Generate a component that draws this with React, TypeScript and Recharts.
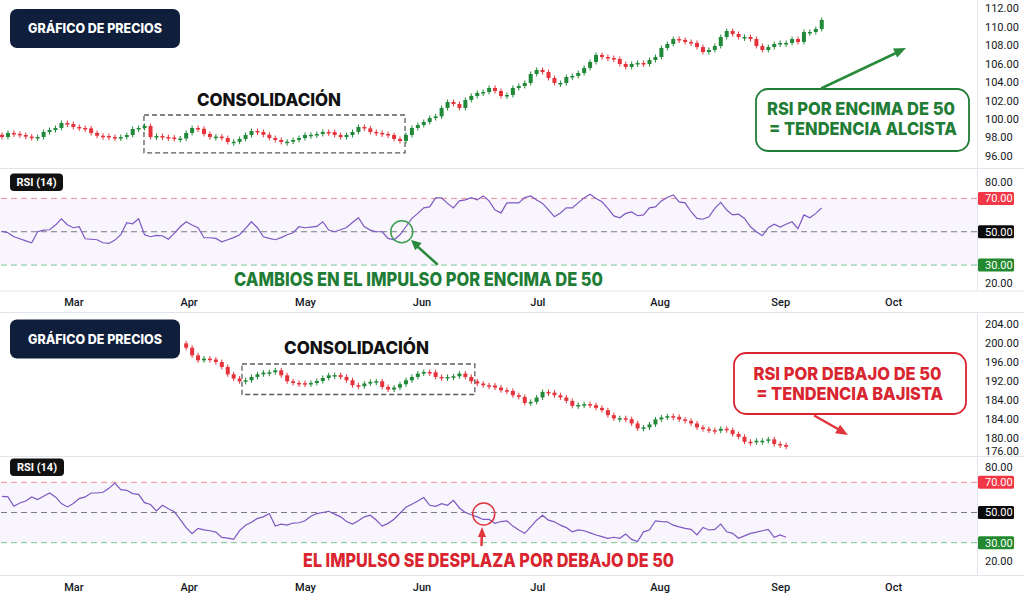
import React from "react";
import {
  ComposedChart,
  LineChart,
  Line,
  Bar,
  XAxis,
  YAxis,
  ReferenceLine,
  ReferenceArea,
  ReferenceDot,
} from "recharts";

// ---------------- DATA ----------------
const monthLabels = ["Mar", "Apr", "May", "Jun", "Jul", "Aug", "Sep", "Oct"];
const monthTicks = [12.1, 31.5, 51.1, 70.7, 90.2, 110.8, 131.1, 150.1];

const priceTicks1 = [96, 98, 100, 102, 104, 106, 108, 110, 112];
const priceLabels1 = ["96.00", "98.00", "100.00", "102.00", "104.00", "106.00", "108.00", "110.00", "112.00"];
const priceTicks2 = [176, 180, 184, 188, 192, 196, 200, 204];
const priceLabels2 = ["176.00", "180.00", "184.00", "184.00", "192.00", "196.00", "200.00", "204.00"];
const rsiTicks = [20, 30, 50, 70, 80];
const rsiLabels = ["20.00", "30.00", "50.00", "70.00", "80.00"];

// upper chart: daily closes (open = previous close)
const firstOpen1 = 98.3;
const closes1 = [
  98.06, 98.5, 98.4, 98.28, 98.1, 97.95, 98.06, 98.61, 98.82, 99.04,
  99.58, 99.47, 99.15, 99.04, 99.0, 98.5, 98.2, 98.17, 98.06, 97.95,
  98.06, 98.28, 98.93, 99.04, 99.26, 98.06, 98.17, 98.06, 98.0, 97.85,
  97.9, 98.5, 99.04, 98.95, 98.39, 98.06, 98.1, 97.95, 97.52, 97.55,
  97.85, 98.28, 98.71, 98.6, 98.3, 97.95, 97.74, 97.52, 97.55, 97.74,
  97.95, 98.28, 98.3, 98.39, 98.61, 98.6, 98.28, 98.06, 98.28, 98.61,
  99.15, 99.0, 98.61, 98.5, 98.39, 98.28, 97.85, 97.63, 98.28, 99.04,
  99.36, 99.69, 100.12, 100.3, 101.21, 101.86, 101.64, 101.21, 102.08, 102.51,
  102.84, 102.94, 103.38, 103.05, 102.51, 102.62, 103.38, 103.59, 103.92, 104.9,
  105.33, 105.11, 104.46, 103.92, 103.92, 104.57, 104.68, 105.0, 105.55, 106.2,
  106.96, 106.74, 106.63, 106.52, 105.98, 105.66, 105.98, 106.09, 105.98, 106.41,
  106.74, 107.72, 108.15, 108.69, 108.6, 108.37, 108.26, 107.82, 107.28, 107.5,
  107.93, 108.91, 109.56, 109.23, 108.91, 108.91, 108.69, 107.93, 107.5, 107.82,
  108.15, 108.26, 108.26, 108.69, 108.37, 109.45, 109.45, 109.78, 110.75,
];

// lower chart: daily closes starting at bar 31 (open = previous close)
const firstIndex2 = 31;
const firstOpen2 = 200.0;
const closes2 = [
  199.09, 197.47, 196.42, 196.78, 196.6, 196.06, 195.01, 193.47, 192.57, 192.0,
  192.21, 192.91, 193.47, 193.83, 193.9, 194.32, 193.26, 192.0, 191.64, 191.6,
  191.52, 191.64, 192.06, 192.69, 193.26, 193.3, 192.91, 192.21, 191.16, 190.95,
  191.52, 191.87, 192.0, 190.8, 190.25, 190.67, 191.37, 192.21, 192.91, 193.62,
  193.96, 193.9, 192.91, 192.85, 192.9, 193.05, 193.62, 192.91, 192.0, 191.52,
  191.16, 191.1, 190.67, 190.11, 189.96, 189.05, 188.69, 187.43, 187.64, 188.57,
  189.75, 189.6, 189.05, 188.57, 187.85, 186.8, 187.0, 187.16, 186.95, 186.38,
  185.89, 184.84, 184.15, 184.2, 184.0, 183.09, 182.04, 182.25, 182.88, 183.94,
  184.36, 184.63, 184.48, 183.94, 183.64, 183.09, 182.25, 181.89, 181.68, 181.54,
  181.96, 181.68, 180.84, 180.27, 179.22, 179.16, 179.43, 179.43, 179.73, 178.74,
  178.53, 178.17,
];

const rsi1 = [
  50.2, 49.4, 47.0, 45.8, 44.5, 43.4, 50.0, 51.0, 51.2, 54.0,
  57.8, 54.2, 52.4, 53.0, 45.8, 45.5, 45.2, 43.4, 43.0, 45.0,
  48.2, 55.4, 54.8, 57.8, 48.2, 47.0, 47.8, 47.6, 45.5, 49.0,
  53.0, 56.0, 54.0, 52.4, 46.4, 46.4, 46.0, 44.0, 45.2, 46.5,
  48.2, 52.0, 56.0, 52.4, 47.0, 46.0, 45.2, 46.5, 48.2, 49.4,
  53.0, 52.4, 52.8, 53.2, 56.0, 51.0, 50.0, 51.2, 52.5, 55.5,
  58.4, 53.0, 51.0, 50.0, 50.0, 46.0, 45.2, 48.2, 53.0, 58.0,
  61.0, 64.3, 64.9, 70.3, 70.3, 67.0, 64.3, 68.5, 69.1, 70.5,
  69.1, 71.5, 68.5, 63.0, 61.3, 67.3, 67.3, 67.3, 70.5, 71.5,
  69.0, 67.0, 63.1, 59.0, 61.3, 64.3, 64.3, 67.3, 70.3, 72.5,
  70.0, 68.0, 64.0, 59.5, 58.4, 61.0, 61.9, 59.6, 60.1, 64.3,
  64.9, 68.5, 70.5, 72.1, 67.9, 67.3, 62.0, 58.0, 57.5, 59.0,
  64.0, 67.6, 63.0, 60.1, 60.5, 58.0, 53.0, 50.0, 47.6, 52.4,
  54.5, 52.8, 54.5, 56.0, 51.8, 60.1, 58.4, 61.0, 64.3,
];

const rsi2 = [
  60.7, 60.3, 54.1, 56.3, 57.6, 60.3, 58.6, 60.7, 62.9, 60.3,
  55.9, 53.7, 55.9, 59.2, 60.3, 62.9, 62.9, 63.4, 66.0, 69.5,
  65.1, 64.7, 62.5, 62.0, 56.5, 55.3, 51.0, 54.8, 52.5, 50.5,
  45.5, 40.0, 36.0, 39.5, 38.5, 37.9, 37.0, 33.5, 33.0, 32.2,
  38.0, 41.5, 43.5, 46.1, 47.1, 49.3, 41.0, 42.3, 41.6, 43.0,
  43.2, 44.5, 47.5, 49.3, 50.0, 50.8, 48.9, 47.1, 44.0, 42.3,
  44.5, 47.1, 48.2, 45.0, 41.0, 42.8, 45.5, 49.5, 53.5, 55.5,
  57.6, 59.9, 54.8, 54.1, 55.9, 54.8, 58.1, 53.0, 50.0, 48.5,
  47.1, 45.4, 45.4, 42.8, 44.0, 44.5, 41.0, 38.4, 36.2, 40.5,
  44.9, 48.2, 44.9, 43.8, 41.6, 40.0, 37.2, 38.5, 37.9, 36.5,
  35.1, 34.0, 32.9, 33.6, 32.9, 35.7, 32.2, 30.7, 37.2, 38.4,
  44.5, 44.0, 43.8, 41.6, 40.5, 39.5, 38.8, 35.1, 40.1, 38.4,
  38.8, 42.3, 37.2, 36.2, 32.9, 34.5, 36.2, 37.0, 37.9, 38.8,
  33.6, 35.1, 33.6,
];

// ---------------- STYLE / LAYOUT ----------------
const X_DOMAIN: [number, number] = [-0.337, 164.14];
const GREEN = "#22893a";
const RED = "#e5333b";
const PURPLE = "#7e57c2";
const NAVY = "#0e1e3b";
const TEXT_GREEN = "#1f7d36";
const TEXT_RED = "#d9252f";
const GRID = "#e3e5ec";
const AXIS_FONT = "Roboto, 'Noto Sans', Arial, sans-serif";
const ANN_FONT = "Inter, 'Open Sans', 'Noto Sans', sans-serif";

type Candle = { i: number; o: number; c: number };
const buildCandles = (closes: number[], firstOpen: number, start: number): Candle[] =>
  closes.map((c, k) => ({ i: start + k, o: k === 0 ? firstOpen : closes[k - 1], c }));

const candles1 = buildCandles(closes1, firstOpen1, 0);
const candles2 = buildCandles(closes2, firstOpen2, firstIndex2);
const rsiData1 = rsi1.map((v, i) => ({ i, v }));
const rsiData2 = rsi2.map((v, i) => ({ i, v }));

const bodyRange = (d: Candle) => [Math.min(d.o, d.c), Math.max(d.o, d.c)];

const CandleShape = (props: any) => {
  const { x, y, width, height, payload } = props;
  if (x == null || y == null || !payload) return null;
  const color = payload.c >= payload.o ? GREEN : RED;
  const h = Math.abs(height || 0);
  const top = (height || 0) < 0 ? y + height : y;
  const bh = Math.max(h, 1.5);
  const cx = x + width / 2;
  return (
    <g>
      <line x1={cx} x2={cx} y1={top - 2.5} y2={top + bh + 2.5} stroke={color} strokeWidth={1} />
      <rect x={x} y={top} width={width} height={bh} fill={color} />
    </g>
  );
};

const makePriceTick = (ticks: number[], labels: string[], edge: number) => (props: any) => {
  const { x, y, payload } = props;
  const idx = ticks.indexOf(payload.value);
  const dy = payload.value === edge ? -6 : 0;
  return (
    <text x={x} y={y + dy} dy="0.35em" textAnchor="start" fontSize={11} fontFamily={AXIS_FONT} fill="#131722">
      {idx >= 0 ? labels[idx] : ""}
    </text>
  );
};

const badgeColor: Record<number, string> = { 70: "#f23645", 50: "#0b0b0b", 30: "#22892f" };

const makeRsiTick = (lowShift: number) => (props: any) => {
  const { x, y, payload } = props;
  const v = payload.value as number;
  const idx = rsiTicks.indexOf(v);
  const bg = badgeColor[v];
  const dy = v === 20 ? lowShift : 0;
  return (
    <g>
      {bg && <rect x={x - 7} y={y - 6.5} width={36} height={13} rx={1.5} fill={bg} />}
      <text x={x} y={y + dy} dy="0.35em" textAnchor="start" fontSize={11} fontFamily={AXIS_FONT} fill={bg ? "#ffffff" : "#131722"}>
        {idx >= 0 ? rsiLabels[idx] : ""}
      </text>
    </g>
  );
};

const PriceChart = (p: {
  data: Candle[];
  height: number;
  domain: [number, number];
  ticks: number[];
  labels: string[];
  box: { x1: number; x2: number; y1: number; y2: number };
}) => (
  <ComposedChart width={1024} height={p.height} data={p.data} margin={{ top: 0, right: 0, bottom: 0, left: 0 }}>
    <XAxis type="number" dataKey="i" domain={X_DOMAIN} allowDataOverflow hide />
    <YAxis
      orientation="right"
      width={47}
      domain={p.domain}
      allowDataOverflow
      ticks={p.ticks}
      interval={0}
      axisLine={false}
      tickLine={false}
      tickSize={0}
      tickMargin={8}
      tick={makePriceTick(p.ticks, p.labels, p.domain[0])}
    />
    <ReferenceArea
      x1={p.box.x1}
      x2={p.box.x2}
      y1={p.box.y1}
      y2={p.box.y2}
      fill="#ffffff"
      fillOpacity={0}
      stroke="#5c5c5c"
      strokeWidth={1.3}
      strokeDasharray="5 3"
    />
    <Bar dataKey={bodyRange as any} barSize={4} shape={CandleShape} isAnimationActive={false} />
  </ComposedChart>
);

const RsiChart = (p: {
  data: { i: number; v: number }[];
  height: number;
  domain: [number, number];
  lowShift: number;
  circle: { x: number; y: number; color: string };
}) => (
  <LineChart width={1024} height={p.height} data={p.data} margin={{ top: 0, right: 0, bottom: 0, left: 0 }}>
    <XAxis
      type="number"
      dataKey="i"
      domain={X_DOMAIN}
      allowDataOverflow
      ticks={monthTicks}
      interval={0}
      height={22}
      axisLine={false}
      tickLine={false}
      tickSize={0}
      tickMargin={8}
      tickFormatter={(_v: number, idx: number) => monthLabels[idx]}
      tick={{ fontSize: 11, fill: "#131722", fontFamily: AXIS_FONT, fontWeight: 500 }}
    />
    <YAxis
      orientation="right"
      width={47}
      domain={p.domain}
      allowDataOverflow
      ticks={rsiTicks}
      interval={0}
      axisLine={false}
      tickLine={false}
      tickSize={0}
      tickMargin={8}
      tick={makeRsiTick(p.lowShift)}
    />
    <ReferenceArea y1={30} y2={70} fill={PURPLE} fillOpacity={0.055} stroke="none" />
    <ReferenceLine y={70} stroke="#ee8f95" strokeDasharray="6 4" strokeWidth={1} />
    <ReferenceLine y={50} stroke="#7a7b86" strokeDasharray="6 4" strokeWidth={1} />
    <ReferenceLine y={30} stroke="#7cc191" strokeDasharray="6 4" strokeWidth={1} />
    <Line type="linear" dataKey="v" stroke={PURPLE} strokeWidth={1.2} dot={false} isAnimationActive={false} />
    <ReferenceDot x={p.circle.x} y={p.circle.y} r={11} fill="none" stroke={p.circle.color} strokeWidth={1.5} />
  </LineChart>
);

const Arrow = (p: { pts: string; line: [number, number, number, number]; color: string; w: number }) => (
  <g>
    <line x1={p.line[0]} y1={p.line[1]} x2={p.line[2]} y2={p.line[3]} stroke={p.color} strokeWidth={p.w} strokeLinecap="round" />
    <polygon points={p.pts} fill={p.color} />
  </g>
);

const AnnText = (p: { x: number; y: number; size: number; len: number; color: string; children: string }) => (
  <text
    x={p.x}
    y={p.y}
    textAnchor="middle"
    fontSize={p.size}
    fontWeight={800}
    fontFamily={ANN_FONT}
    fill={p.color}
    textLength={p.len}
    lengthAdjust="spacingAndGlyphs"
  >
    {p.children}
  </text>
);

export default function App() {
  return (
    <div style={{ position: "absolute", left: 0, top: 0, width: 1024, height: 597, background: "#ffffff", overflow: "hidden" }}>
      <div style={{ position: "absolute", left: 0, top: 0 }}>
        <PriceChart
          data={candles1}
          height={168}
          domain={[94.7, 112.92]}
          ticks={priceTicks1}
          labels={priceLabels1}
          box={{ x1: 23.9, x2: 67.85, y1: 96.33, y2: 100.45 }}
        />
      </div>
      <div style={{ position: "absolute", left: 0, top: 169 }}>
        <RsiChart data={rsiData1} height={143} domain={[15.05, 87.64]} lowShift={1} circle={{ x: 67.3, y: 50, color: "#3c9d4e" }} />
      </div>
      <div style={{ position: "absolute", left: 0, top: 313 }}>
        <PriceChart
          data={candles2}
          height={144}
          domain={[176, 206.42]}
          ticks={priceTicks2}
          labels={priceLabels2}
          box={{ x1: 40.4, x2: 79.6, y1: 189.2, y2: 195.65 }}
        />
      </div>
      <div style={{ position: "absolute", left: 0, top: 457 }}>
        <RsiChart data={rsiData2} height={140} domain={[8.6, 86.75]} lowShift={3} circle={{ x: 81.1, y: 49, color: "#e0353d" }} />
      </div>

      <svg width={1024} height={597} style={{ position: "absolute", left: 0, top: 0, pointerEvents: "none" }}>
        {/* panel separators */}
        <line x1={0} x2={1024} y1={168.5} y2={168.5} stroke={GRID} />
        <line x1={0} x2={1024} y1={291} y2={291} stroke={GRID} />
        <line x1={0} x2={1024} y1={312.5} y2={312.5} stroke={GRID} />
        <line x1={0} x2={1024} y1={456.5} y2={456.5} stroke={GRID} />
        <line x1={0} x2={1024} y1={575.5} y2={575.5} stroke={GRID} />
        <line x1={977.5} x2={977.5} y1={0} y2={291} stroke={GRID} />
        <line x1={977.5} x2={977.5} y1={313} y2={575} stroke={GRID} />

        {/* title badges */}
        <rect x={10} y={9} width={170} height={39} rx={7} fill={NAVY} />
        <AnnText x={95} y={33.3} size={13} len={134} color="#ffffff">GRÁFICO DE PRECIOS</AnnText>
        <rect x={10} y={319.5} width={170} height={39} rx={7} fill={NAVY} />
        <AnnText x={95} y={344.3} size={13} len={134} color="#ffffff">GRÁFICO DE PRECIOS</AnnText>

        {/* RSI labels */}
        <rect x={10} y={173.5} width={53} height={17.5} rx={4} fill="#111111" />
        <text x={36.5} y={186} textAnchor="middle" fontSize={11} fontWeight={700} fontFamily={AXIS_FONT} fill="#ffffff">RSI (14)</text>
        <rect x={10} y={458.5} width={54} height={17.5} rx={4} fill="#111111" />
        <text x={37} y={471} textAnchor="middle" fontSize={11} fontWeight={700} fontFamily={AXIS_FONT} fill="#ffffff">RSI (14)</text>

        {/* consolidation titles */}
        <AnnText x={269} y={106} size={17.5} len={144} color="#111111">CONSOLIDACIÓN</AnnText>
        <AnnText x={356.5} y={354} size={17.5} len={145} color="#111111">CONSOLIDACIÓN</AnnText>

        {/* bullish callout */}
        <rect x={756} y={89} width={213} height={62} rx={12} fill="#ffffff" stroke={TEXT_GREEN} strokeWidth={1.8} />
        <AnnText x={861} y={115} size={18} len={188} color={TEXT_GREEN}>RSI POR ENCIMA DE 50</AnnText>
        <AnnText x={863} y={135} size={18} len={188} color={TEXT_GREEN}>= TENDENCIA ALCISTA</AnnText>
        <Arrow line={[822, 88, 896, 53]} pts="906,48 897.2,57.5 893,48.5" color="#2a8a3c" w={2.5} />

        {/* bullish RSI note */}
        <Arrow line={[437, 264, 418, 247]} pts="411,240 421.8,242.9 415.2,250.3" color="#2a8a3c" w={2.5} />
        <AnnText x={418.5} y={285.5} size={19} len={369} color={TEXT_GREEN}>CAMBIOS EN EL IMPULSO POR ENCIMA DE 50</AnnText>

        {/* bearish callout */}
        <rect x={734} y={353} width={232} height={61} rx={12} fill="#ffffff" stroke={TEXT_RED} strokeWidth={1.8} />
        <AnnText x={847.5} y={380} size={18} len={188} color={TEXT_RED}>RSI POR DEBAJO DE 50</AnnText>
        <AnnText x={849.7} y={400} size={18} len={187} color={TEXT_RED}>= TENDENCIA BAJISTA</AnnText>
        <Arrow line={[815, 416, 838, 429]} pts="848,435 835.1,433.3 840.1,424.7" color="#e0353d" w={2.5} />

        {/* bearish RSI note */}
        <Arrow line={[481.5, 545, 481.8, 536]} pts="482,527 478,537 486,537" color="#e0353d" w={2.5} />
        <AnnText x={488.5} y={566.5} size={19} len={371} color={TEXT_RED}>EL IMPULSO SE DESPLAZA POR DEBAJO DE 50</AnnText>
      </svg>
    </div>
  );
}
